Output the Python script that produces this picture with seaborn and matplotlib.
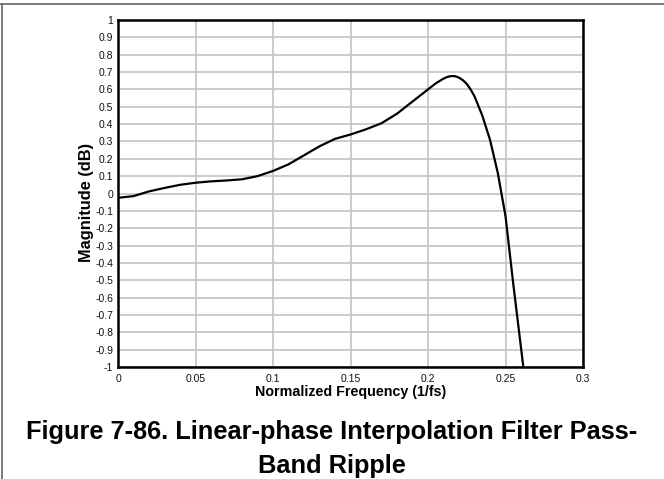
import pandas as pd
import matplotlib
matplotlib.use("Agg")
import matplotlib.pyplot as plt
import seaborn as sns
from matplotlib.lines import Line2D

# values
freq = [0, 0.01, 0.02, 0.03, 0.04, 0.05, 0.06, 0.07, 0.08, 0.09, 0.1,
        0.11, 0.12, 0.13, 0.14, 0.15, 0.16, 0.17, 0.18, 0.19, 0.2,
        0.205, 0.21, 0.2125, 0.215, 0.2175, 0.22, 0.2225, 0.225, 0.2275, 0.23,
        0.235, 0.24, 0.245, 0.25, 0.255, 0.2615]
mag = [-0.025, -0.015, 0.012, 0.032, 0.05, 0.062, 0.07, 0.075, 0.082, 0.1, 0.13,
       0.168, 0.22, 0.272, 0.315, 0.34, 0.37, 0.405, 0.46, 0.53, 0.6,
       0.635, 0.662, 0.672, 0.677, 0.676, 0.668, 0.653, 0.632, 0.6, 0.56,
       0.45, 0.31, 0.12, -0.13, -0.52, -1.0]

x_ticks = [0, 0.05, 0.1, 0.15, 0.2, 0.25, 0.3]
x_labels = ["0", "0.05", "0.1", "0.15", "0.2", "0.25", "0.3"]
y_ticks = [round(-1 + 0.1 * i, 1) for i in range(21)]
y_labels = ["-1", "-0.9", "-0.8", "-0.7", "-0.6", "-0.5", "-0.4", "-0.3", "-0.2", "-0.1",
            "0", "0.1", "0.2", "0.3", "0.4", "0.5", "0.6", "0.7", "0.8", "0.9", "1"]

title = "Figure 7-86. Linear-phase Interpolation Filter Pass-\nBand Ripple"


def main():
    sns.set_style("white")
    plt.rcParams["font.family"] = ["Liberation Sans", "DejaVu Sans"]
    plt.rcParams["text.color"] = "black"
    plt.rcParams["axes.labelcolor"] = "black"

    df = pd.DataFrame({"freq": freq, "mag": mag})

    fig = plt.figure(figsize=(6.64, 4.79), dpi=100)
    ax = fig.add_axes([118 / 664, 1 - 367 / 479, 465 / 664, 347 / 479])

    sns.lineplot(data=df, x="freq", y="mag", color="black", linewidth=1.6, ax=ax,
                 zorder=3)

    ax.set_xlim(0, 0.3)
    ax.set_ylim(-1, 1)
    ax.set_xticks(x_ticks)
    ax.set_xticklabels(x_labels)
    ax.set_yticks(y_ticks)
    ax.set_yticklabels(y_labels)
    ax.grid(True, color="#c8c8c8", linewidth=1.3)
    ax.tick_params(axis="both", labelsize=7.5, colors="#c8c8c8", labelcolor="#111111",
                   length=2.5, width=1, pad=1)
    ax.tick_params(axis="x", length=0, pad=5)
    for s in ax.spines.values():
        s.set_color("black")
        s.set_linewidth(1.8)
        s.set_zorder(4)

    ax.set_xlabel("Normalized Frequency (1/fs)", fontsize=10.3, fontweight="bold", labelpad=1)
    ax.set_ylabel("Magnitude (dB)", fontsize=11.8, fontweight="bold", va="center")
    ax.yaxis.set_label_coords((86 - 118) / 465, (367 - 202) / 347)

    fig.text(0.5, 1 - 449 / 479, title, ha="center", va="center", fontsize=18.3,
             fontweight="bold", linespacing=1.5, color="black")

    # page frame lines
    fig.add_artist(Line2D([0, 1], [1 - 4 / 479, 1 - 4 / 479], color="#666666", linewidth=1.2,
                          transform=fig.transFigure))
    fig.add_artist(Line2D([1.5 / 664, 1.5 / 664], [0, 1 - 4 / 479], color="#666666", linewidth=1.2,
                          transform=fig.transFigure))

    fig.savefig("out.png", dpi=100)


if __name__ == "__main__":
    main()
